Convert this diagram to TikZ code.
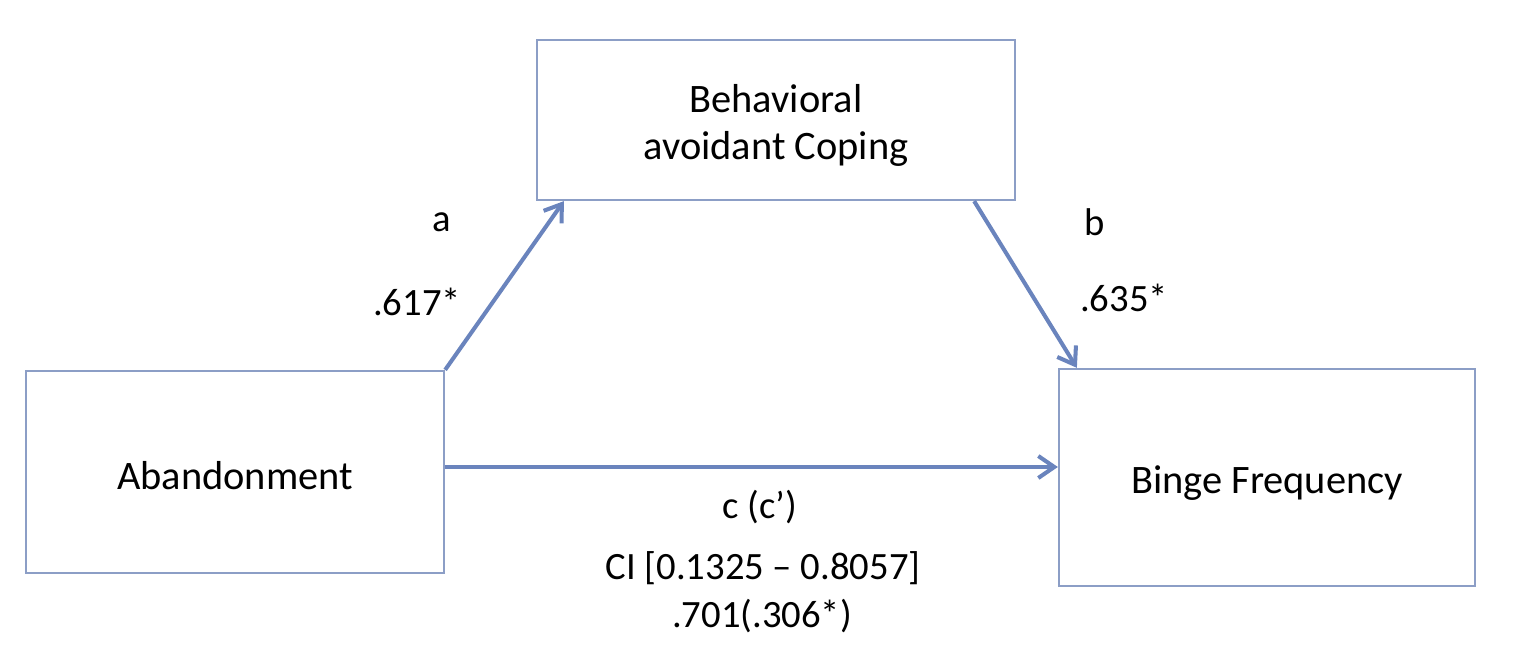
\documentclass[tikz,border=0pt]{standalone}
\usepackage{fontspec}
\setmainfont{Carlito}
\usetikzlibrary{arrows.meta}
\definecolor{boxline}{RGB}{140,158,198}
\definecolor{arrowline}{RGB}{106,132,189}
\tikzset{
    varbox/.style={draw=boxline, line width=1.3pt, rectangle, inner sep=0pt, text depth=0pt, align=center, font=\fontsize{23}{27}\selectfont},
    effect/.style={draw=arrowline, line width=2.3pt, -{Straight Barb[length=3.2mm,width=4.4mm]}},
    coef/.style={font=\fontsize{22}{26}\selectfont}
}
\begin{document}
\begin{tikzpicture}
                    \useasboundingbox (0, 0) rectangle (30.8, 13.16);
                    \node[varbox, minimum width=8.36cm, minimum height=4.04cm, text height=0.72cm] (aband) at (4.70, 3.72){Abandonment};
                    \node[varbox, minimum width=9.56cm, minimum height=3.2cm, text height=1.6cm] (coping) at (15.52, 10.76){Behavioral\\avoidant Coping};
                    \node[varbox, minimum width=8.32cm, minimum height=4.34cm, text height=0.66cm] (binge) at (25.34, 3.61){Binge Frequency};
                    \draw[effect] (aband.north east) to ([xshift=0.56cm]coping.south west);
                        \node[coef] (pa) at (8.84, 8.72){a};
                        \node[coef] (va) at (8.34, 7.12){.617*};
                    \draw[effect] ([xshift=-0.84cm]coping.south east) to ([xshift=0.38cm]binge.north west);
                        \node[coef] (pb) at (21.90, 8.72){b};
                        \node[coef] (vb) at (22.48, 7.20){.635*};
                    \draw[effect] ([yshift=0.1cm]aband.east) to ([yshift=0.21cm]binge.west);
                        \node[coef] (pc) at (15.20, 3.02){c (c’)};
                        \node[coef] (ci) at (15.26, 1.80){CI [0.1325 – 0.8057]};
                        \node[coef] (vc) at (15.24, 0.84){.701(.306*)};
                \end{tikzpicture}
\end{document}
